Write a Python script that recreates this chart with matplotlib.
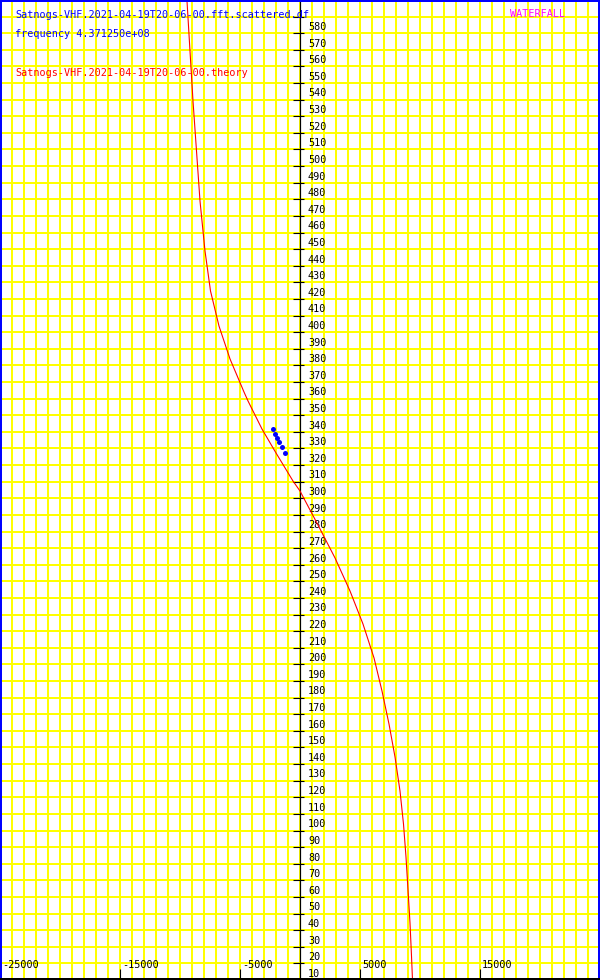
import matplotlib
matplotlib.use("Agg")
import matplotlib.pyplot as plt
from matplotlib.transforms import ScaledTranslation

# ---- data ----
theory_time = [589.4, 559.3, 529.2, 499.1, 469.0, 438.9, 414.8, 393.7, 373.9, 354.0,
               348.6, 331.7, 317.3, 300.4, 294.4, 273.9, 254.1, 234.2, 214.3, 193.9,
               174.0, 154.1, 134.3, 113.8, 93.9, 74.1, 54.2, 34.3, 14.4, 0.0]
theory_freq = [-9417, -9167, -8917, -8625, -8333, -7917, -7458, -6750, -5833, -4667,
               -4333, -3167, -2000, -583, 0, 1500, 2917, 4167, 5250, 6167,
               6833, 7417, 7917, 8333, 8625, 8833, 9000, 9167, 9292, 9375]

obs_freq = [-2250, -2083, -1917, -1750, -1500, -1250]
obs_time = [331.7, 328.7, 326.3, 323.9, 320.9, 317.3]

ytick_values = list(range(10, 590, 10))
xtick_values = [-25000, -15000, -5000, 5000, 15000]
xtick_labels = ["-25000", "-15000", "-5000", "5000", "15000"]

title_scatter = "Satnogs-VHF.2021-04-19T20-06-00.fft.scattered.df"
title_freq = "frequency 4.371250e+08"
title_theory = "Satnogs-VHF.2021-04-19T20-06-00.theory"
title_mode = "WATERFALL"

# ---- figure ----
W, H, DPI = 600, 980, 100
PX = 72.0 / DPI  # points per pixel
fig = plt.figure(figsize=(W / DPI, H / DPI), dpi=DPI, facecolor="white")
ax = fig.add_axes([0, 0, 1, 1])
ax.set_facecolor("white")
ax.set_xlim(-25000, 25000)
ax.set_ylim(0, 590)

mono = "DejaVu Sans Mono"
fsz = 7.3

# grid
for gx in range(-25000, 25001, 1000):
    ax.axvline(gx, color="#ffff00", lw=2 * PX, zorder=1, antialiased=False)
for gy in range(10, 590, 10):
    ax.axhline(gy, color="#ffff00", lw=2 * PX, zorder=1, antialiased=False)

# borders
for s in ax.spines.values():
    s.set_visible(False)
ax.plot([0, 0], [0, 1], transform=ax.transAxes, color="#0000ff", lw=4 * PX, zorder=6)
ax.plot([0, 1], [1, 1], transform=ax.transAxes, color="#0000ff", lw=4 * PX, zorder=6)
ax.plot([1, 1], [0, 1], transform=ax.transAxes, color="#0000ff", lw=4 * PX, zorder=6)
ax.plot([0, 1], [0, 0], transform=ax.transAxes, color="black", lw=4 * PX, zorder=6)

# central y axis
ax.axvline(0, color="black", lw=1.2 * PX, zorder=3)
ax.set_xticks([])
ax.set_yticks([])
for v in ytick_values:
    ax.plot([-7 * 50000 / W, 4 * 50000 / W], [v, v], color="black", lw=1.1 * PX, zorder=3,
            solid_capstyle="butt")
    tt = ax.transData + ScaledTranslation(8 / DPI, -13.4 / DPI, fig.dpi_scale_trans)
    ax.text(0, v, str(v), transform=tt, fontfamily=mono, fontsize=fsz, color="black",
            ha="left", va="baseline", zorder=4)

# bottom x ticks
for v, lab in zip(xtick_values, xtick_labels):
    ax.plot([v, v], [0, 11 * 590 / H], color="black", lw=1.1 * PX, zorder=3,
            solid_capstyle="butt")
    tt = ax.transData + ScaledTranslation(2 / DPI, 12 / DPI, fig.dpi_scale_trans)
    ax.text(v, 0, lab, transform=tt, fontfamily=mono, fontsize=fsz, color="black",
            ha="left", va="baseline", zorder=4)

# data
ax.plot(theory_freq, theory_time, color="#ff0000", lw=1.1 * PX, zorder=5)
ax.plot(obs_freq, obs_time, linestyle="none", marker="o", ms=3.6, color="#0000ff",
        markeredgewidth=0, zorder=5)

# header texts
def ftext(x, y, s, c):
    fig.text(x / W, 1 - y / H, s, fontfamily=mono, fontsize=fsz, color=c,
             ha="left", va="baseline", zorder=7)

ftext(15, 18, title_scatter, "#0000ff")
ftext(15, 37, title_freq, "#0000ff")
ftext(15, 76, title_theory, "#ff0000")
ftext(510, 17, title_mode, "#ff00ff")

fig.savefig("out.png", dpi=DPI, facecolor="white")
